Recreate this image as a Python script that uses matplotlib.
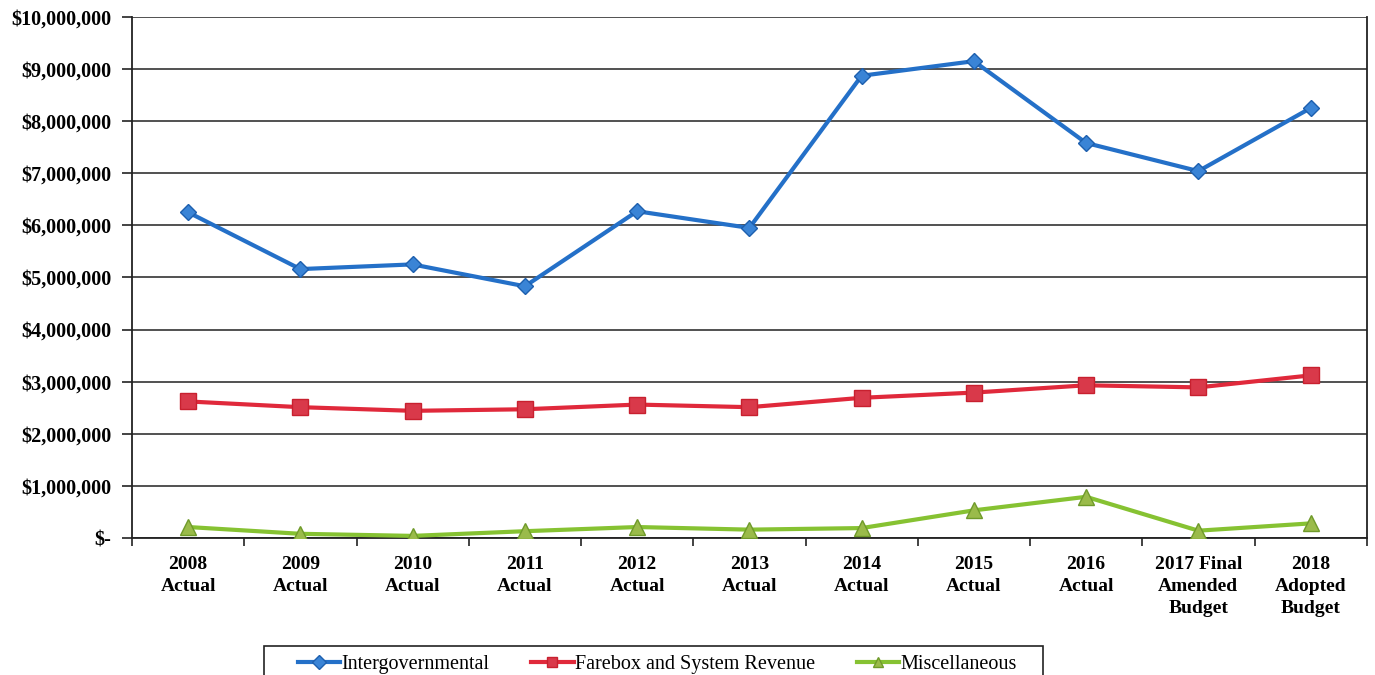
import matplotlib
matplotlib.use("Agg")
import matplotlib.pyplot as plt
import numpy as np
from matplotlib.ticker import FuncFormatter, FixedLocator
from matplotlib.patches import Rectangle

categories = ["2008\nActual", "2009\nActual", "2010\nActual", "2011\nActual", "2012\nActual",
              "2013\nActual", "2014\nActual", "2015\nActual", "2016\nActual",
              "2017 Final\nAmended\nBudget", "2018\nAdopted\nBudget"]
intergovernmental = [6250000, 5160000, 5250000, 4830000, 6270000, 5950000, 8870000,
                     9150000, 7580000, 7040000, 8250000]
farebox = [2620000, 2510000, 2440000, 2470000, 2560000, 2510000, 2690000,
           2790000, 2930000, 2890000, 3120000]
miscellaneous = [210000, 80000, 40000, 130000, 210000, 160000, 190000,
                 530000, 790000, 140000, 280000]

plt.rcParams['font.family'] = ['Liberation Serif', 'DejaVu Serif']

fig = plt.figure(figsize=(13.75, 6.75), dpi=100)
ax = fig.add_axes([0.096, 0.203, 0.898, 0.772])

x = np.arange(len(categories))
ax.plot(x, intergovernmental, color='#2470c8', lw=3.0, marker='D', ms=8.5,
        mfc='#3a84d6', mec='#1d5fae', label='Intergovernmental', zorder=3)
ax.plot(x, farebox, color='#e0293b', lw=3.0, marker='s', ms=11,
        mfc='#d9394a', mec='#c8202f', label='Farebox and System Revenue', zorder=3)
ax.plot(x, miscellaneous, color='#86c232', lw=3.0, marker='^', ms=11,
        mfc='#9abb4a', mec='#6f9a2a', label='Miscellaneous', zorder=3)

ax.set_xlim(-0.5, len(categories) - 0.5)
ax.set_ylim(0, 10000000)
ax.set_yticks(np.arange(0, 10000001, 1000000))

def fmt(v, pos):
    if v == 0:
        return '$-'
    return '${:,.0f}'.format(v)
ax.yaxis.set_major_formatter(FuncFormatter(fmt))
ax.set_xticks(x)
ax.set_xticklabels(categories, fontsize=14, fontweight='bold', linespacing=1.4)
ax.xaxis.set_minor_locator(FixedLocator(np.arange(-0.5, len(categories), 1.0)))
ax.tick_params(axis='x', which='major', length=0, pad=13)
ax.tick_params(axis='x', which='minor', length=6, width=1.2, color='#222222', direction='out')
ax.tick_params(axis='y', which='major', length=7, width=1.2, color='#222222', labelsize=14.5, pad=8)
for lab in ax.get_yticklabels():
    lab.set_fontweight('bold')

ax.grid(axis='y', color='#222222', lw=1.1)
ax.set_axisbelow(True)
for side in ['left', 'bottom', 'right']:
    ax.spines[side].set_color('#222222')
    ax.spines[side].set_linewidth(1.3)
ax.spines['top'].set_visible(False)

leg = fig.legend(loc='upper center', bbox_to_anchor=(0.478, 0.043), ncol=3,
                 frameon=False, fontsize=14.5,
                 handlelength=2.1, columnspacing=2.1, borderpad=0.45, handletextpad=0.05,
                 borderaxespad=0)
for h in leg.legend_handles:
    h.set_markersize(7.5)

frame_left, frame_right, frame_top = 264 / 1375, 1043 / 1375, 1 - 646 / 675
fig.patches.append(Rectangle((frame_left, -0.02), frame_right - frame_left, frame_top + 0.02,
                             transform=fig.transFigure, fill=False, edgecolor='#222222',
                             linewidth=1.2))

fig.savefig('out.png', dpi=100)
